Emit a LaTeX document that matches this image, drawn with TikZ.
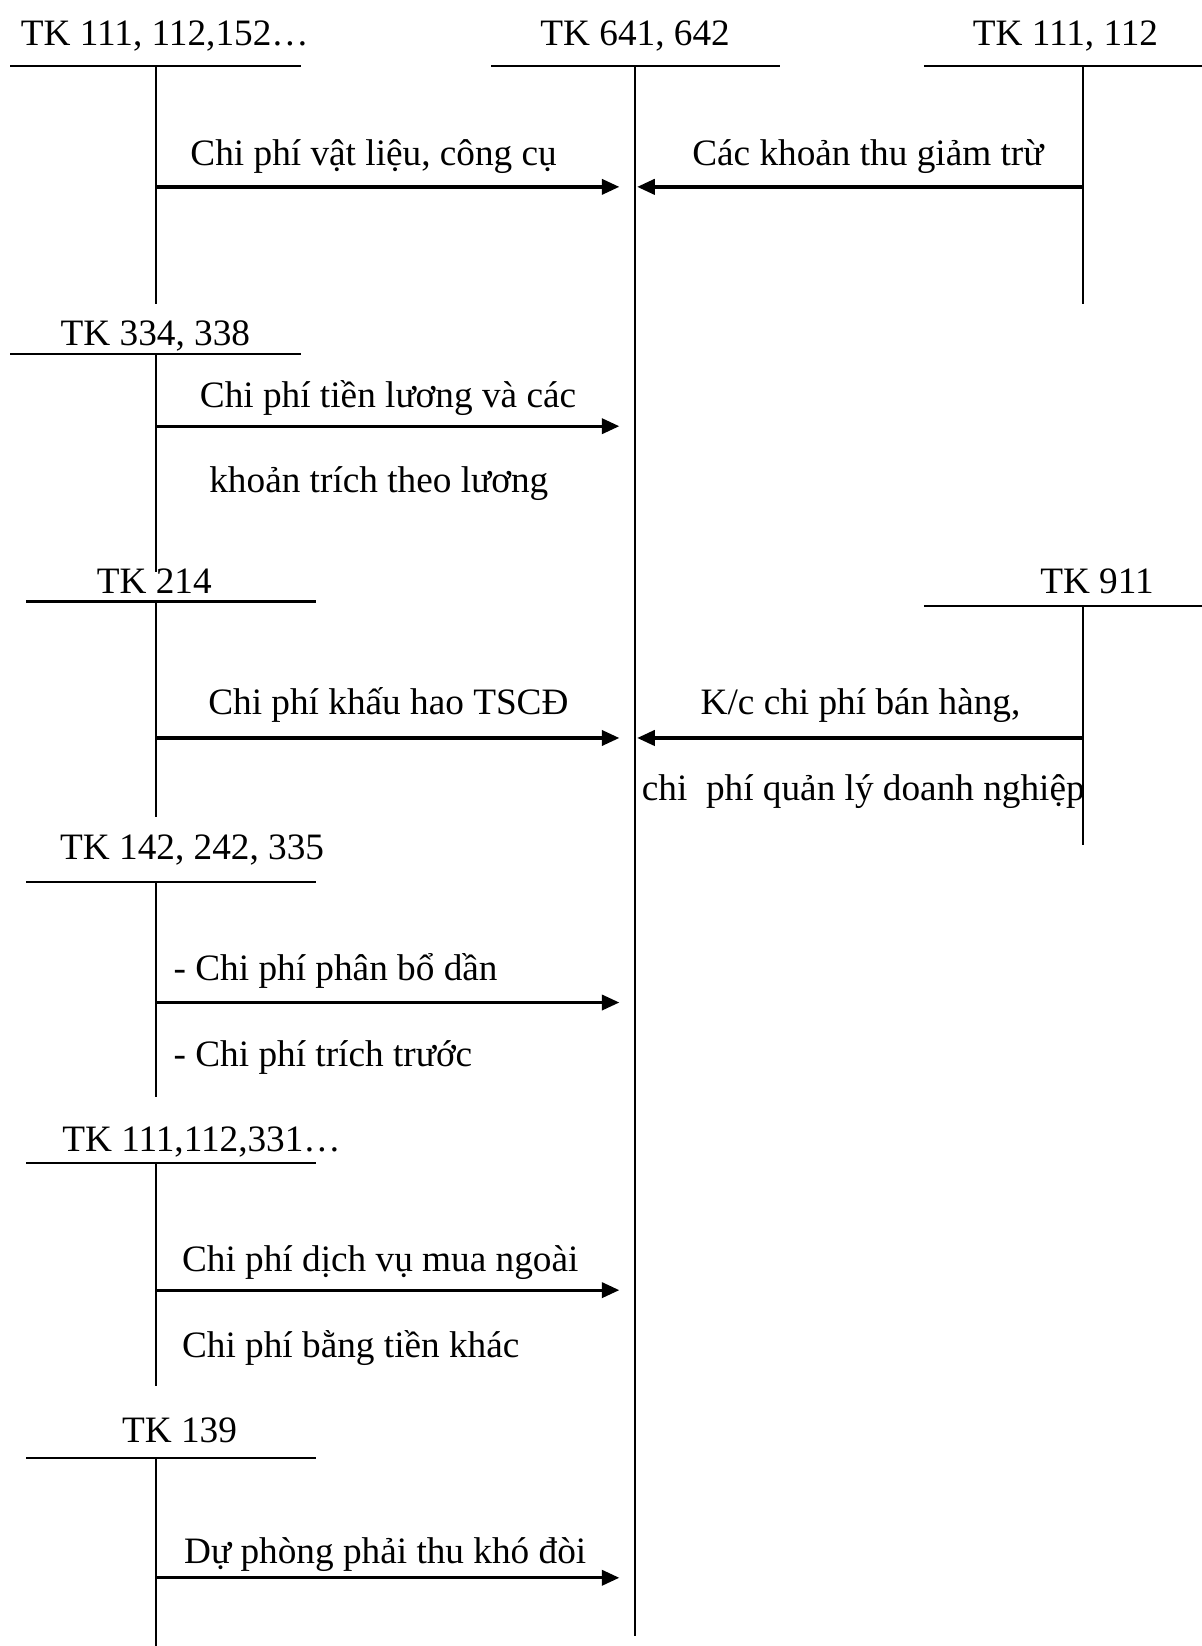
\documentclass[tikz,border=0pt]{standalone}
\usepackage{fontspec}
\setmainfont{Liberation Serif}
\usetikzlibrary{positioning, arrows.meta}

\begin{document}
\begin{tikzpicture}[
    x=0.448pt, y=-0.448pt,
    acc/.style={font=\fontsize{15.9}{19}\selectfont, inner sep=0pt, anchor=base},
    note/.style={font=\fontsize{15.9}{19}\selectfont, inner sep=0pt, anchor=base west},
    tline/.style={line width=0.9pt},
    flow/.style={-{Triangle[length=7.5pt, width=6.5pt]}, line width=1.4pt}
]
\useasboundingbox (0,0) rectangle (1145,1568);

% account names
\node[acc] (tk152) at (157,43) {TK 111, 112,152…};
\node[acc] (tk641) at (605,43) {TK 641, 642};
\node[acc] (tk112) at (1015,43) {TK 111, 112};
\node[acc] (tk334) at (148,329) {TK 334, 338};
\node[acc] (tk214) at (147,565) {TK 214};
\node[acc] (tk911) at (1045,565) {TK 911};
\node[acc] (tk335) at (183,819) {TK 142, 242, 335};
\node[acc] (tk331) at (192,1097) {TK 111,112,331…};
\node[acc] (tk139) at (171,1374) {TK 139};

% T accounts
\coordinate (c152l) at (10,63);   \coordinate (c152r) at (287,63);
\coordinate (c152t) at (149,63);  \coordinate (c152b) at (149,290);
\coordinate (c641l) at (468,63);  \coordinate (c641r) at (743,63);
\coordinate (c641t) at (605,63);  \coordinate (c641b) at (605,1558);
\coordinate (c112l) at (880,63);  \coordinate (c112r) at (1145,63);
\coordinate (c112t) at (1032,63); \coordinate (c112b) at (1032,290);
\coordinate (c334l) at (10,337);  \coordinate (c334r) at (287,337);
\coordinate (c334t) at (149,337); \coordinate (c334b) at (149,545);
\coordinate (c214l) at (25,573);  \coordinate (c214r) at (301,573);
\coordinate (c214t) at (149,573); \coordinate (c214b) at (149,778);
\coordinate (c911l) at (880,577); \coordinate (c911r) at (1145,577);
\coordinate (c911t) at (1032,577); \coordinate (c911b) at (1032,805);
\coordinate (c335l) at (25,840);  \coordinate (c335r) at (301,840);
\coordinate (c335t) at (149,840); \coordinate (c335b) at (149,1045);
\coordinate (c331l) at (25,1108); \coordinate (c331r) at (301,1108);
\coordinate (c331t) at (149,1108); \coordinate (c331b) at (149,1320);
\coordinate (c139l) at (25,1389); \coordinate (c139r) at (301,1389);
\coordinate (c139t) at (149,1389); \coordinate (c139b) at (149,1568);

\draw[tline] (c152l) -- (c152r) (c152t) -- (c152b);
\draw[tline] (c641l) -- (c641r) (c641t) -- (c641b);
\draw[tline] (c112l) -- (c112r) (c112t) -- (c112b);
\draw[tline] (c334l) -- (c334r) (c334t) -- (c334b);
\draw[tline] (c214l) -- (c214r) (c214t) -- (c214b);
\draw[tline] (c911l) -- (c911r) (c911t) -- (c911b);
\draw[tline] (c335l) -- (c335r) (c335t) -- (c335b);
\draw[tline] (c331l) -- (c331r) (c331t) -- (c331b);
\draw[tline] (c139l) -- (c139r) (c139t) -- (c139b);

% arrow ends
\coordinate (s152) at (149,178);  \coordinate (e152) at (590,178);
\coordinate (s112) at (1032,178); \coordinate (e112) at (607,178);
\coordinate (s334) at (149,406);  \coordinate (e334) at (590,406);
\coordinate (s214) at (149,703);  \coordinate (e214) at (590,703);
\coordinate (s911) at (1032,703); \coordinate (e911) at (607,703);
\coordinate (s335) at (149,955);  \coordinate (e335) at (590,955);
\coordinate (s331) at (149,1229); \coordinate (e331) at (590,1229);
\coordinate (s139) at (149,1503); \coordinate (e139) at (590,1503);

\draw[flow] (s152) -- (e152);
\draw[flow] (s112) -- (e112);
\draw[flow] (s334) -- (e334);
\draw[flow] (s214) -- (e214);
\draw[flow] (s911) -- (e911);
\draw[flow] (s335) -- (e335);
\draw[flow] (s331) -- (e331);
\draw[flow] (s139) -- (e139);

% texts on the arrows
\node[note] (vatlieu) at (181,158) {Chi phí vật liệu, công cụ};
\node[note] (giamtru) at (659,158) {Các khoản thu giảm trừ};
\node[note] (luong1) at (190,388) {Chi phí tiền lương và các};
\node[note] (luong2) at (199,469) {khoản trích theo lương};
\node[note] (khauhao) at (198,681) {Chi phí khấu hao TSCĐ};
\node[note] (kc1) at (667,681) {K/c chi phí bán hàng,};
\node[note] (kc2) at (611,763) {chi\ \ phí quản lý doanh nghiệp};
\node[note] (phanbo) at (165,934) {- Chi phí phân bổ dần};
\node[note] (tructruoc) at (165,1016) {- Chi phí trích trước};
\node[note] (dichvu) at (173,1211) {Chi phí dịch vụ mua ngoài};
\node[note] (tienkhac) at (173,1293) {Chi phí bằng tiền khác};
\node[note] (duphong) at (175,1489) {Dự phòng phải thu khó đòi};
\end{tikzpicture}
\end{document}
